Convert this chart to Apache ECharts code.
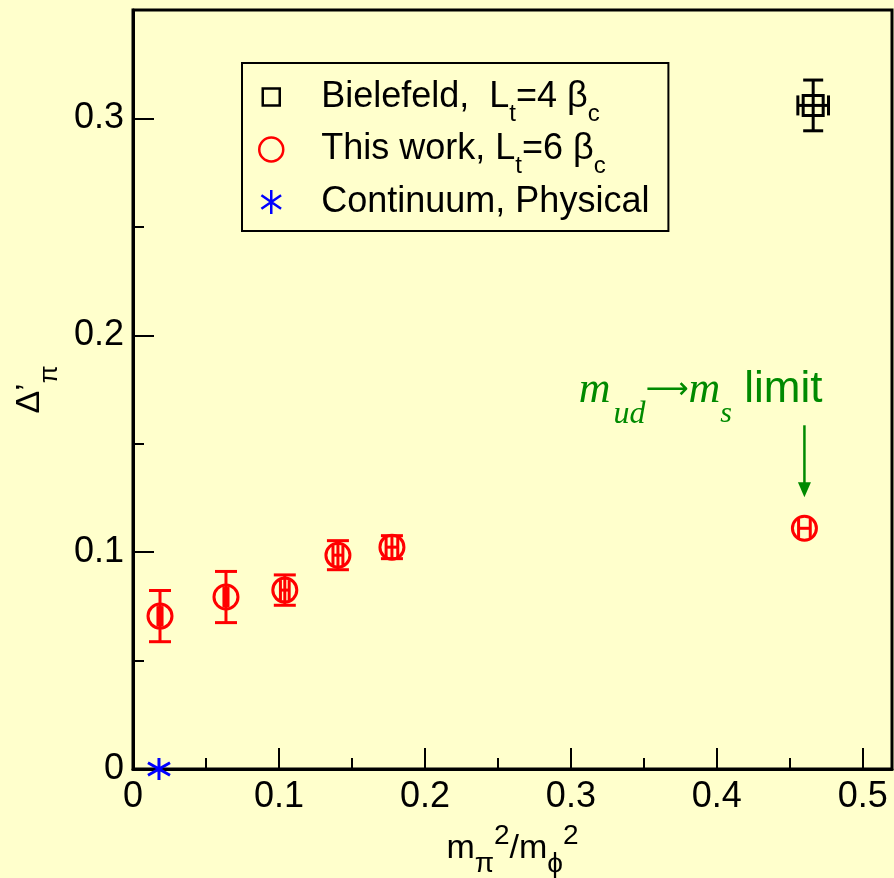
<!DOCTYPE html>
<html>
<head>
<meta charset="utf-8">
<script src="https://cdn.jsdelivr.net/npm/echarts@6/dist/echarts.min.js"></script>
<style>
  html, body { margin: 0; padding: 0; background: #ffffcc; }
  #chart { width: 894px; height: 878px; }
</style>
</head>
<body>
<div id="chart"></div>
<script>
// Bielefeld, L_t = 4 at beta_c
const bielefeldX = [0.466];
const bielefeldY = [0.306];
const bielefeldXErr = [0.0105];
const bielefeldYErr = [0.0117];

// This work, L_t = 6 at beta_c (last point: m_ud -> m_s limit)
const thisWorkX = [0.0185, 0.0637, 0.104, 0.1404, 0.1774, 0.460];
const thisWorkY = [0.0705, 0.0793, 0.0825, 0.0986, 0.1023, 0.111];
const thisWorkXErr = [0.0014, 0.0014, 0.003, 0.0034, 0.004, 0.004];
const thisWorkYErr = [0.0118, 0.0118, 0.007, 0.0067, 0.0053, 0];

// Continuum, physical point
const continuumX = [0.0178];
const continuumY = [0];

// Axis ticks
const xTicks = [0, 0.1, 0.2, 0.3, 0.4, 0.5];
const yTicks = [0, 0.1, 0.2, 0.3];

const SANS = '"Liberation Sans", Arial, Helvetica, sans-serif';
const SERIF = '"Liberation Serif", "Times New Roman", serif';
const RED = '#ff0000';
const GREEN = '#008a00';
const BG = '#ffffcc';

const rows = (xs, ys, dxs, dys) => xs.map((x, i) => [x, ys[i], dxs ? dxs[i] : 0, dys ? dys[i] : 0]);

// Error bars with caps, drawn through the cartesian coordinate system
function errorBars(color, capW, capH) {
  return function (params, api) {
    const x = api.value(0), y = api.value(1), dx = api.value(2), dy = api.value(3);
    const c = api.coord([x, y]);
    const style = { stroke: color, lineWidth: 3, fill: null };
    const kids = [];
    if (dy > 0) {
      const t = api.coord([x, y + dy])[1], b = api.coord([x, y - dy])[1];
      kids.push({ type: 'line', shape: { x1: c[0], y1: t, x2: c[0], y2: b }, style });
      kids.push({ type: 'line', shape: { x1: c[0] - capW / 2, y1: t, x2: c[0] + capW / 2, y2: t }, style });
      kids.push({ type: 'line', shape: { x1: c[0] - capW / 2, y1: b, x2: c[0] + capW / 2, y2: b }, style });
    }
    if (dx > 0) {
      const l = api.coord([x - dx, y])[0], r = api.coord([x + dx, y])[0];
      kids.push({ type: 'line', shape: { x1: l, y1: c[1], x2: r, y2: c[1] }, style });
      kids.push({ type: 'line', shape: { x1: l, y1: c[1] - capH / 2, x2: l, y2: c[1] + capH / 2 }, style });
      kids.push({ type: 'line', shape: { x1: r, y1: c[1] - capH / 2, x2: r, y2: c[1] + capH / 2 }, style });
    }
    return { type: 'group', children: kids };
  };
}

const STAR = 'path://M0,-10L0,10M-8.2,-5.7L8.2,5.7M-8.2,5.7L8.2,-5.7';
// smaller open square for the legend key (outer moves keep the padding)
const LEGEND_SQUARE = 'path://M0,0M24,24M3.5,3.5h17v17h-17z';

const legendText = {
  'Bielefeld': '{lead|}Bielefeld,  L{lsub|t}=4 β{lsub|c}',
  'This work': '{lead|}This work, L{lsub|t}=6 β{lsub|c}',
  'Continuum': '{lead|}Continuum, Physical{lsub|}'
};

const chart = echarts.init(document.getElementById('chart'), null, { renderer: 'canvas' });

const tickLabel = { color: '#000', fontFamily: SANS, fontSize: 36 };

chart.setOption({
  animation: false,
  backgroundColor: BG,
  grid: {
    left: 133, right: 2, top: 10, bottom: 109,
    outerBoundsMode: 'none', containLabel: false,
    show: true, borderColor: '#000', borderWidth: 3, backgroundColor: BG
  },
  legend: {
    orient: 'vertical',
    left: 242, top: 63,
    padding: [5, 19, 0, 16],
    itemGap: -5.5,
    itemWidth: 30, itemHeight: 24,
    backgroundColor: BG,
    borderColor: '#000', borderWidth: 2,
    data: [{ name: 'Bielefeld', icon: LEGEND_SQUARE }, 'This work', 'Continuum'],
    itemStyle: { borderWidth: 2.5 },
    formatter: name => legendText[name],
    textStyle: {
      color: '#000', fontFamily: SANS, fontSize: 36, lineHeight: 58,
      rich: {
        lead: { width: 30, fontSize: 36, lineHeight: 58 },
        lsub: { fontFamily: SANS, fontSize: 24, lineHeight: 24, color: '#000', padding: [34, 0, 0, 0] }
      }
    }
  },
  xAxis: [{
    type: 'value', min: 0, max: 0.52, interval: 0.1,
    name: '{m|m}{sub|π}{sup|2}{m|/m}{sub|ϕ}{sup|2}',
    nameLocation: 'middle', nameGap: 50,
    nameTextStyle: {
      rich: {
        m: { fontFamily: SANS, fontSize: 34, lineHeight: 40, color: '#000', verticalAlign: 'middle' },
        sub: { fontFamily: SANS, fontSize: 28, lineHeight: 28, color: '#000', padding: [30, 0, 0, 0], verticalAlign: 'middle' },
        sup: { fontFamily: SANS, fontSize: 28, lineHeight: 28, color: '#000', padding: [0, 0, 26, 0], verticalAlign: 'middle' }
      }
    },
    splitLine: { show: false },
    axisLine: { show: true, onZero: false, lineStyle: { color: '#000', width: 3 } },
    axisTick: { show: true, inside: true, length: 21, lineStyle: { color: '#000', width: 2 }, customValues: xTicks },
    axisLabel: { ...tickLabel, margin: 10, customValues: xTicks },
  }, {
    // minor ticks every 0.05
    type: 'value', min: 0, max: 0.52, interval: 0.05, position: 'bottom',
    splitLine: { show: false },
    axisLine: { show: false },
    axisLabel: { show: false },
    axisTick: { show: true, inside: true, length: 11, lineStyle: { color: '#000', width: 2 } }
  }],
  yAxis: [{
    type: 'value', min: 0, max: 0.35, interval: 0.1,
    name: '{d|Δ’}{sub|π}',
    nameLocation: 'middle', nameRotate: 90, nameGap: 80,
    nameTextStyle: {
      rich: {
        d: { fontFamily: SANS, fontSize: 34, lineHeight: 40, color: '#000', verticalAlign: 'middle' },
        sub: { fontFamily: SANS, fontSize: 26, lineHeight: 26, color: '#000', padding: [40, 0, 0, 0], verticalAlign: 'middle' }
      }
    },
    splitLine: { show: false },
    axisLine: { show: true, onZero: false, lineStyle: { color: '#000', width: 3 } },
    axisTick: { show: true, inside: true, length: 21, lineStyle: { color: '#000', width: 2 }, customValues: yTicks },
    axisLabel: { ...tickLabel, margin: 9, customValues: yTicks }
  }, {
    type: 'value', min: 0, max: 0.35, interval: 0.05, position: 'left',
    splitLine: { show: false },
    axisLine: { show: false },
    axisLabel: { show: false },
    axisTick: { show: true, inside: true, length: 11, lineStyle: { color: '#000', width: 2 } }
  }],
  series: [
    {
      type: 'custom', name: 'bielefeld-err', silent: true,
      renderItem: errorBars('#000', 20, 20),
      data: rows(bielefeldX, bielefeldY, bielefeldXErr, bielefeldYErr), z: 3
    },
    {
      type: 'custom', name: 'thiswork-err', silent: true,
      renderItem: errorBars(RED, 22, 20),
      data: rows(thisWorkX, thisWorkY, thisWorkXErr, thisWorkYErr), z: 3
    },
    {
      type: 'scatter', name: 'Bielefeld', symbol: 'rect', symbolSize: 20,
      itemStyle: { color: 'rgba(0,0,0,0)', borderColor: '#000', borderWidth: 3, opacity: 1 },
      data: rows(bielefeldX, bielefeldY).map(r => r.slice(0, 2)), z: 4
    },
    {
      type: 'scatter', name: 'This work', symbol: 'circle', symbolSize: 24,
      itemStyle: { color: 'rgba(0,0,0,0)', borderColor: RED, borderWidth: 3, opacity: 1 },
      data: rows(thisWorkX, thisWorkY).map(r => r.slice(0, 2)), z: 4
    },
    {
      type: 'scatter', name: 'Continuum', symbol: STAR, symbolSize: 22,
      itemStyle: { color: 'rgba(0,0,0,0)', borderColor: '#0000ff', borderWidth: 3, opacity: 1 },
      data: rows(continuumX, continuumY).map(r => r.slice(0, 2)), z: 5
    }
  ]
});

// Annotation for the m_ud -> m_s limit point, placed relative to that point
const last = thisWorkX.length - 1;
const p = chart.convertToPixel({ xAxisIndex: 0, yAxisIndex: 0 }, [thisWorkX[last], thisWorkY[last]]);
chart.setOption({
  graphic: [
    {
      type: 'line', z: 10,
      shape: { x1: p[0], y1: p[1] - 103, x2: p[0], y2: p[1] - 44 },
      style: { stroke: GREEN, lineWidth: 2.5 }
    },
    {
      type: 'polygon', z: 10,
      shape: { points: [[p[0] - 6.5, p[1] - 46], [p[0] + 6.5, p[1] - 46], [p[0], p[1] - 31]] },
      style: { fill: GREEN }
    },
    {
      type: 'text', z: 10,
      style: {
        x: p[0] + 18, y: p[1] - 138,
        align: 'right', verticalAlign: 'middle',
        text: '{m|m}{ud|ud}{ar|⟶}{m|m}{sub|s}{l| limit}',
        rich: {
          m: { fontFamily: SERIF, fontStyle: 'italic', fontSize: 44, lineHeight: 50, fill: GREEN, color: GREEN, verticalAlign: 'middle' },
          ud: { fontFamily: SERIF, fontStyle: 'italic', fontSize: 32, lineHeight: 30, fill: GREEN, color: GREEN, padding: [48, 0, 0, 3], verticalAlign: 'middle' },
          sub: { fontFamily: SERIF, fontStyle: 'italic', fontSize: 30, lineHeight: 30, fill: GREEN, color: GREEN, padding: [48, 0, 0, 0], verticalAlign: 'middle' },
          ar: { fontFamily: '"DejaVu Sans", sans-serif', fontSize: 30, lineHeight: 50, fill: GREEN, color: GREEN, verticalAlign: 'middle' },
          l: { fontFamily: SANS, fontSize: 44, lineHeight: 50, fill: GREEN, color: GREEN, verticalAlign: 'middle' }
        }
      }
    }
  ]
});
</script>
</body>
</html>
